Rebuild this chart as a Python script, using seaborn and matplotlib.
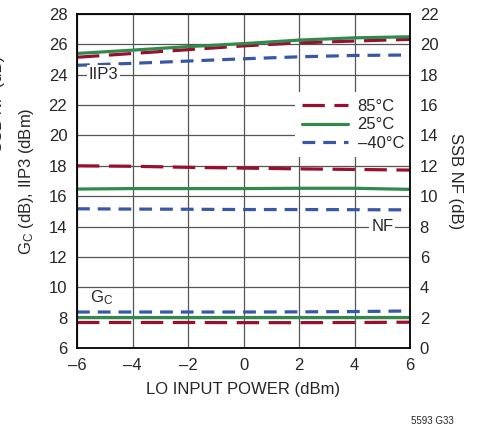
import pandas as pd
import seaborn as sns
import matplotlib.pyplot as plt
from matplotlib.lines import Line2D

lo_power = [-6, -4, -2, 0, 2, 4, 6]
temps = ["85°C", "25°C", "\u201340°C"]

iip3_85 = [25.15, 25.4, 25.65, 25.9, 26.1, 26.22, 26.33]
iip3_25 = [25.4, 25.62, 25.85, 26.05, 26.28, 26.43, 26.5]
iip3_m40 = [24.62, 24.75, 24.9, 25.05, 25.18, 25.27, 25.3]

nf_85 = [18.0, 17.97, 17.9, 17.85, 17.8, 17.76, 17.72]
nf_25 = [16.47, 16.5, 16.5, 16.5, 16.52, 16.52, 16.45]
nf_m40 = [15.17, 15.15, 15.14, 15.12, 15.12, 15.11, 15.1]

gc_85 = [7.68, 7.68, 7.68, 7.67, 7.67, 7.68, 7.7]
gc_25 = [8.04, 8.04, 8.04, 8.04, 8.04, 8.04, 8.04]
gc_m40 = [8.37, 8.37, 8.37, 8.37, 8.38, 8.4, 8.44]

series = {
    ("IIP3", temps[0]): iip3_85, ("IIP3", temps[1]): iip3_25, ("IIP3", temps[2]): iip3_m40,
    ("NF", temps[0]): nf_85, ("NF", temps[1]): nf_25, ("NF", temps[2]): nf_m40,
    ("GC", temps[0]): gc_85, ("GC", temps[1]): gc_25, ("GC", temps[2]): gc_m40,
}
rows = []
for (metric, t), vals in series.items():
    for x, v in zip(lo_power, vals):
        rows.append({"lo": x, "value": v, "temp": t, "metric": metric})
df = pd.DataFrame(rows)

colors = {temps[0]: "#9a0f2f", temps[1]: "#2f8a4c", temps[2]: "#3957a8"}
dashes = {temps[0]: (7, 3), temps[1]: "", temps[2]: (4, 2.5)}

sns.set_style("white")
plt.rcParams["font.family"] = ["Liberation Sans", "DejaVu Sans"]
plt.rcParams["mathtext.fontset"] = "custom"
plt.rcParams["mathtext.rm"] = "Liberation Sans"
plt.rcParams["mathtext.it"] = "Liberation Sans"

fs = 12

fig = plt.figure(figsize=(4.9, 4.32), dpi=100)
ax = fig.add_axes([77 / 490, 1 - 348 / 432, 333 / 490, 334 / 432])

sns.lineplot(data=df, x="lo", y="value", hue="temp", style="temp", units="metric",
             estimator=None, palette=colors, dashes=dashes, linewidth=2.3,
             legend=False, ax=ax, zorder=3)

ax.set_xlim(-6, 6)
ax.set_ylim(6, 28)
ax.set_xticks(range(-6, 7, 2))
ax.set_xticklabels(["\u20136", "\u20134", "\u20132", "0", "2", "4", "6"])
ax.set_yticks(range(6, 29, 2))
ax.grid(True, color="#555555", linewidth=0.9)
ax.tick_params(labelsize=fs, length=0, pad=7)
for s in ax.spines.values():
    s.set_color("black")
    s.set_linewidth(1.3)
    s.set_visible(True)
    s.set_zorder(5)

ax2 = ax.twinx()
ax2.set_ylim(0, 22)
ax2.set_yticks(range(0, 23, 2))
ax2.tick_params(labelsize=fs, length=0, pad=7)
for s in ax2.spines.values():
    s.set_visible(False)

ax.set_xlabel("LO INPUT POWER (dBm)", fontsize=fs, labelpad=7)
ax.set_ylabel(r"G$_\mathregular{C}$ (dB), IIP3 (dBm)", fontsize=fs, labelpad=9)
ax2.set_ylabel("SSB NF (dB)", fontsize=fs, rotation=270, labelpad=18)
fig.text(-0.006, 0.76, "SSB NF (dB)", rotation=90, fontsize=fs, ha="center", va="center")

box = dict(facecolor="white", edgecolor="none", pad=1.5)
ax.text(-5.05, 24, "IIP3", fontsize=fs, ha="center", va="center", bbox=box, zorder=4)
ax.text(5.0, 14, "NF", fontsize=fs, ha="center", va="center", bbox=box, zorder=4)
ax.text(-5.1, 9.3, r"G$_\mathregular{C}$", fontsize=fs, ha="center", va="center", zorder=4)

handles = [
    Line2D([], [], color=colors[temps[0]], linewidth=2.3, dashes=dashes[temps[0]]),
    Line2D([], [], color=colors[temps[1]], linewidth=2.3),
    Line2D([], [], color=colors[temps[2]], linewidth=2.3, dashes=dashes[temps[2]]),
]
leg = ax.legend(handles, temps, loc="upper left", bbox_to_anchor=(0.63, 0.79),
                frameon=True, fancybox=False, fontsize=fs, handlelength=2.8,
                handletextpad=0.55, labelspacing=0.2, borderpad=0.4)
leg.get_frame().set_edgecolor("none")
leg.get_frame().set_facecolor("white")
leg.get_frame().set_alpha(1)
leg.set_zorder(4)

fig.text(432 / 490, 1 - 421 / 432, "5593 G33", fontsize=7, ha="center", va="center")

plt.savefig("out.png", dpi=100)
